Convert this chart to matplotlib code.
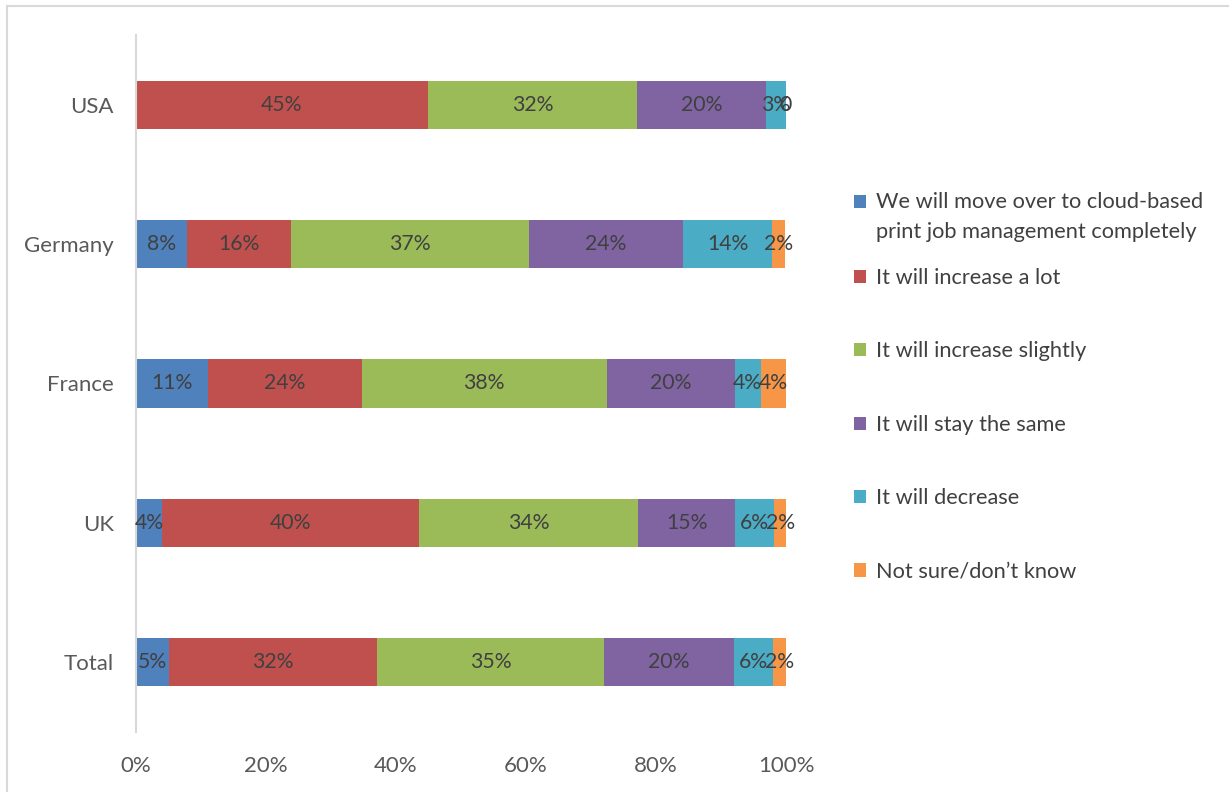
import numpy as np
import matplotlib.pyplot as plt
from matplotlib.patches import Patch
from matplotlib.lines import Line2D

plt.rcParams['font.family'] = ['Lato', 'DejaVu Sans']

countries = ['Total', 'UK', 'France', 'Germany', 'USA']
series = [
    'We will move over to cloud-based\nprint job management completely',
    'It will increase a lot',
    'It will increase slightly',
    'It will stay the same',
    'It will decrease',
    'Not sure/don\u2019t know',
]
# values in %, order: Total, UK, France, Germany, USA
cloud = [5.1, 4.0, 11.1, 7.8, 0.0]
inc_lot = [32.0, 39.6, 23.6, 16.0, 44.9]
inc_slight = [34.9, 33.7, 37.7, 36.6, 32.2]
same = [20.0, 14.8, 19.7, 23.7, 19.8]
decrease = [6.0, 6.0, 4.0, 13.8, 3.1]
not_sure = [2.0, 2.0, 4.0, 2.0, 0.0]
colors = ['#4F81BD', '#C0504D', '#9BBB59', '#8064A2', '#4BACC6', '#F79646']

all_vals = [cloud, inc_lot, inc_slight, same, decrease, not_sure]
FS = 16

fig = plt.figure(figsize=(12.29, 7.92), dpi=100)
ax = fig.add_axes([136 / 1229, 1 - 732 / 792, 650 / 1229, 697 / 792])

y = np.arange(len(countries))
left = np.zeros(len(countries))
for i, (vals, col) in enumerate(zip(all_vals, colors)):
    vals = np.array(vals)
    bars = ax.barh(y, vals, left=left, height=0.345, color=col)
    for j, b in enumerate(bars):
        v = vals[j]
        if v == 0 and i == 0:
            continue
        txt = '0' if v == 0 else '%.0f%%' % v
        ax.text(left[j] + v / 2, y[j], txt, ha='center', va='center',
                fontsize=15.3, color='#404040')
    left = left + vals

ax.set_xlim(0, 100)
ax.set_ylim(-0.5, 4.5)
ax.set_yticks(y)
ax.set_yticklabels(countries, fontsize=FS, color='#595959')
ax.set_xticks([0, 20, 40, 60, 80, 100])
ax.set_xticklabels(['0%', '20%', '40%', '60%', '80%', '100%'], fontsize=FS, color='#595959')
ax.tick_params(length=0)
ax.tick_params(axis='x', pad=17)
ax.tick_params(axis='y', pad=16)
for s in ['top', 'right', 'bottom']:
    ax.spines[s].set_visible(False)
ax.spines['left'].set_color('#D9D9D9')
ax.spines['left'].set_linewidth(1.5)

handles = [Patch(facecolor=c, edgecolor='none') for c in colors]
leg_kw = dict(loc='upper left', frameon=False, fontsize=15.7, borderpad=0,
              borderaxespad=0, handlelength=0.55, handleheight=0.55,
              handletextpad=0.45, labelcolor='#404040')
leg1 = fig.legend(handles[:1], series[:1], bbox_to_anchor=(854 / 1229, 1 - 192 / 792), **leg_kw)
for t in leg1.get_texts():
    t.set_linespacing(1.6)
# line the square up with the first text line, as Excel does
h0 = leg1.legend_handles[0]
h0.set_y(h0.get_y() + 11)
leg2 = fig.legend(handles[1:], series[1:], bbox_to_anchor=(854 / 1229, 1 - 268 / 792),
                  labelspacing=2.45, **leg_kw)

# chart area border
fig.add_artist(Line2D([7 / 1229, 1.0], [1 - 5.5 / 792, 1 - 5.5 / 792], color='#D9D9D9', lw=1.5))
fig.add_artist(Line2D([7 / 1229, 7 / 1229], [0, 1 - 5.5 / 792], color='#D9D9D9', lw=1.5))

fig.savefig('out.png', dpi=100)
